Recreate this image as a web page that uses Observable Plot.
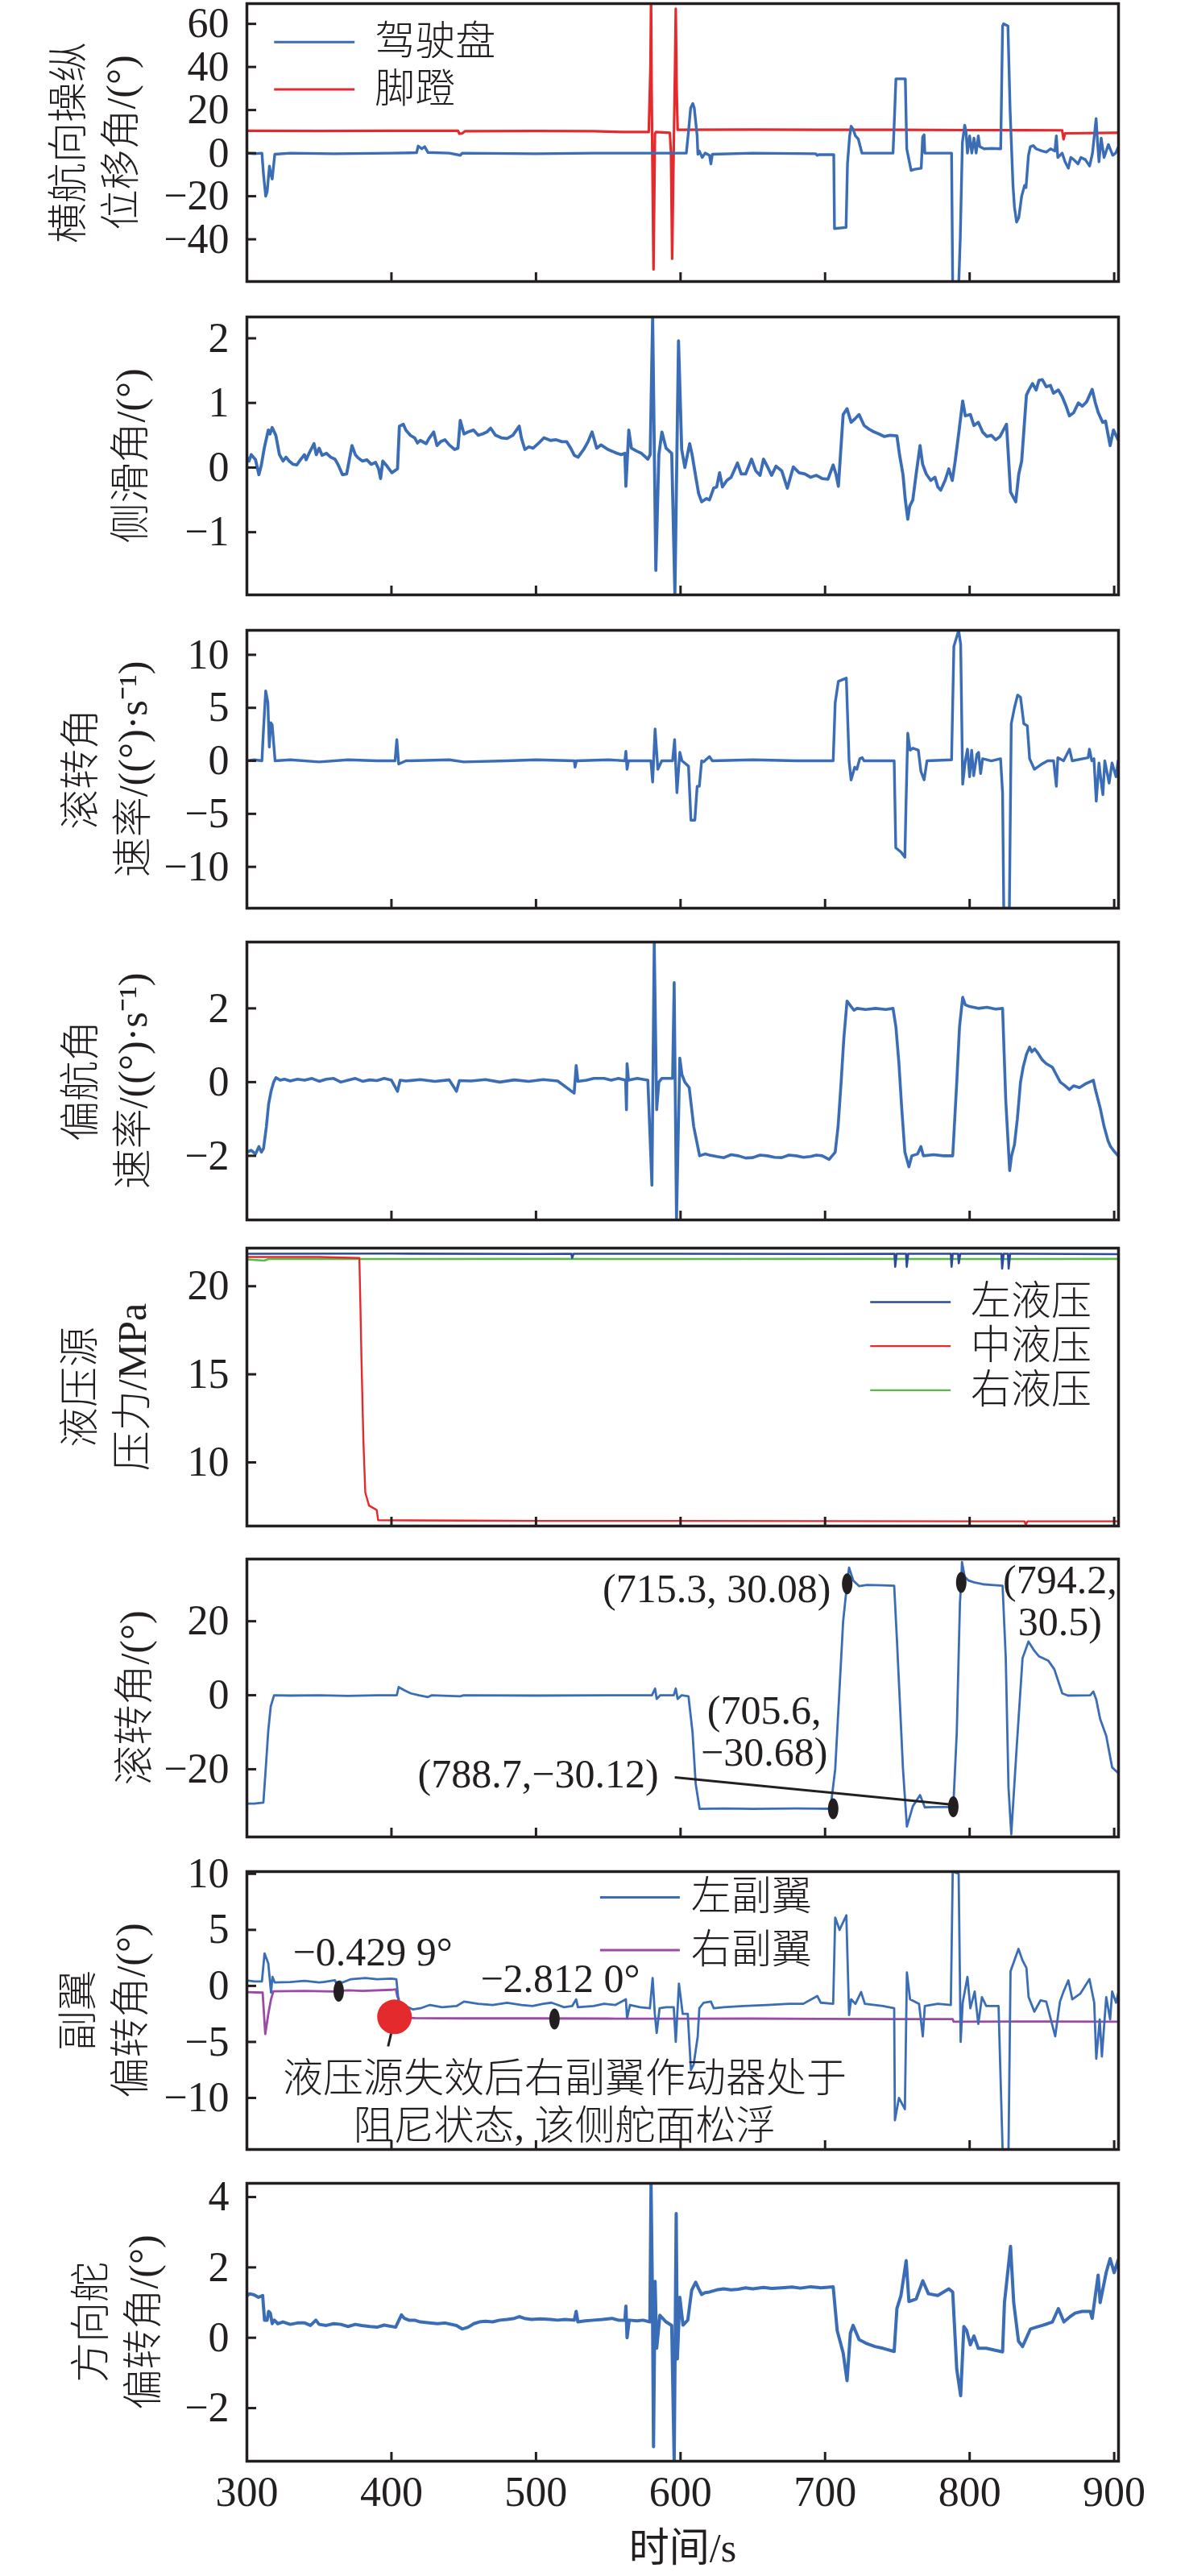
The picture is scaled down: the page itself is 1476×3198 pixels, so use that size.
<!DOCTYPE html>
<html><head><meta charset="utf-8">
<script src="https://cdn.jsdelivr.net/npm/d3@7"></script>
<script src="https://cdn.jsdelivr.net/npm/@observablehq/plot@0.6"></script>
<style>
body{margin:0;background:#fff}
#wrap{position:relative;width:1476px;height:3198px;overflow:hidden}
#wrap svg{position:absolute;left:0}
</style>
</head><body><div id="wrap"></div>
<script>
// ---------------- data (time s, value) ----------------
const xTicks = [300, 400, 500, 600, 700, 800, 900];

const wheel = [[300,0],[305,-0.3],[310.4,0],[311.5,-10],[313,-20],[314,-18],[315.6,-6],[316.6,-10],[317.5,-12],[319.3,-0.5],[330,0],[360,-0.3],[400,0],[417.4,0.2],[418.5,3.3],[421,2],[423,3],[425.3,0.3],[440,0],[447.6,-1],[449,0],[500,-0.3],[540,0],[604,0],[605.5,10],[607,21],[608.5,23],[609.5,21],[611.5,8],[612,-0.5],[613,1],[615,-2],[617,0],[620,-1],[621,-5],[622,-0.5],[650,0],[693.5,-0.3],[694.5,-1],[696,-0.7],[706,-0.7],[706.5,-35],[714.5,-34.5],[715.5,-5],[717,8],[718,12.5],[719.5,11],[721,8],[723,6.5],[725.5,0],[747,0],[748.2,20],[749,34.5],[755.5,34.5],[756.5,2],[758,-3],[759.5,-8],[762,-7.5],[766.5,-7],[767.5,7.5],[768.5,8.5],[769,0],[787.5,0],[788.3,-62],[792.4,-62],[793.5,-40],[795,5],[796.6,13],[797.5,10],[798.5,0],[800,8],[801.5,0],[803,7],[804.5,0],[806,8],[807,3],[810,2],[815,2.2],[821.5,2],[822.8,59],[823.5,60],[826.5,59],[828,20],[830,-15],[831,-25],[832.5,-32],[834,-30],[836,-20],[838,-15],[839,-16],[840.7,-1],[842,3],[844,3.5],[846,2],[850,1],[853,0.5],[856,2],[859,1],[860,8],[861,-2],[864,0],[866,-4],[868.3,-7],[870,-2],[872,-3],[875,-5],[877,-2],[880,-3],[883,-6],[885,0],[887.5,16],[888.5,5],[889.5,-4],[891,7],[893,-2],[896,4],[899,-1],[901,0],[903,3]];
const pedal = [[300,10.4],[350,10.3],[400,10.4],[446,10.4],[447,9],[449,9.2],[451,10.2],[500,10.3],[540,10.2],[560,9.8],[578,9.8],[579.2,40],[579.6,72],[580,30],[581.3,-54],[582.3,9],[583,9.8],[590,9.5],[592.6,9.4],[593.4,0],[594.2,-49],[595,-10],[596.2,40],[596.7,67],[597.3,30],[598,10.8],[650,10.9],[700,10.8],[750,10.8],[800,10.7],[864,10.6],[865,6.4],[866,9.2],[900,9.4],[903,9.4]];

const sideslip = [[300,0.16],[301.5,0.1],[303,0.2],[306,0.12],[308.3,-0.11],[310,0.04],[312,0.3],[314.8,0.58],[316,0.52],[317.5,0.62],[320,0.5],[322.5,0.2],[325,0.1],[327,0.16],[329.3,0.1],[332,0.05],[334.5,0.04],[337,0.12],[339.8,0.2],[341,0.12],[343,0.22],[346.4,0.37],[348,0.2],[350,0.3],[352,0.19],[355,0.22],[358,0.16],[360.9,0.13],[363,0.05],[366.1,-0.11],[369,-0.1],[372.7,0.34],[375,0.2],[377,0.15],[380,0.1],[383,0.12],[386,0.05],[389,0.08],[391.1,-0.02],[392.5,-0.17],[394,0.1],[397,0.02],[400.3,-0.08],[404.2,-0.02],[405.5,0.64],[408.2,0.67],[410,0.58],[413,0.5],[416.1,0.46],[418,0.38],[420,0.42],[424,0.37],[426,0.45],[429.2,0.55],[431.5,0.34],[434,0.4],[437,0.43],[440,0.35],[443.7,0.28],[446,0.3],[447.6,0.73],[450.2,0.52],[453,0.55],[456.8,0.58],[460,0.5],[463,0.52],[466,0.55],[468.6,0.61],[472,0.5],[476,0.46],[480,0.45],[484,0.5],[488.4,0.64],[490,0.45],[492.3,0.28],[495,0.32],[498,0.3],[502,0.38],[505.5,0.46],[510,0.42],[514,0.43],[518,0.4],[521.2,0.4],[524,0.3],[526.5,0.19],[529.1,0.16],[533,0.28],[536,0.4],[538.8,0.55],[542,0.3],[545,0.35],[549.8,0.28],[553,0.25],[556,0.22],[559,0.2],[561.5,0.22],[562.2,-0.29],[564.2,0.58],[566,0.3],[570,0.25],[573,0.22],[577.4,0.13],[579,0.2],[580.7,2.32],[582.9,-1.59],[585,0.2],[587.1,0.55],[590,0.3],[593.9,0.22],[596.1,-1.95],[598.6,1.96],[600.8,0.28],[603,0],[606.3,0.37],[608,0.2],[610.5,-0.14],[612.5,-0.4],[614.6,-0.53],[618,-0.48],[620,-0.5],[622.9,-0.32],[625,-0.3],[627,-0.08],[629,-0.3],[632,-0.2],[635,-0.15],[639.4,0.07],[642,-0.1],[645,-0.1],[649.1,0.13],[652,-0.05],[655,-0.12],[657.4,0.13],[660,0.02],[663,-0.12],[666,0.02],[670,-0.05],[673.9,-0.32],[678,0.01],[682,-0.08],[686,-0.1],[690,-0.15],[694,-0.12],[698,-0.17],[702,-0.18],[705.6,0.04],[707.5,-0.1],[709.2,-0.29],[712.5,0.82],[715.2,0.91],[718,0.7],[720.5,0.75],[723.5,0.82],[727,0.65],[730,0.6],[734,0.55],[737.3,0.52],[741,0.48],[745,0.5],[749.7,0.49],[751.5,0.2],[753.9,-0.11],[755.5,-0.5],[757.2,-0.8],[758.5,-0.6],[760.7,-0.5],[763,-0.1],[765.7,0.34],[767.5,0.05],[770,-0.1],[773.1,-0.2],[776,-0.15],[778,-0.3],[780,-0.35],[783,-0.2],[785.6,-0.02],[788,-0.2],[790,0.1],[792.4,0.52],[795.2,1.03],[797,0.8],[800.5,0.82],[803,0.65],[806,0.7],[809,0.55],[812,0.48],[815,0.5],[818,0.43],[821,0.48],[825.5,0.67],[826.5,0.3],[828.3,-0.38],[830,-0.45],[831.9,-0.53],[834,-0.1],[836,0.1],[839.3,1.12],[841,1.2],[843.5,1.3],[846,1.2],[848,1.35],[850.3,1.36],[853,1.25],[855.9,1.27],[858,1.15],[861.4,1.2],[864,1.1],[866.9,0.94],[869,0.8],[872,0.85],[875.2,1.0],[878,0.95],[881,1.02],[884.8,1.21],[887,1.0],[889,0.85],[892,0.7],[894,0.72],[897.2,0.34],[899.5,0.58],[902.7,0.43]];

const rollRate = [[300,0],[305,0.1],[310.4,0],[311.5,3],[313,6.6],[314.5,5.5],[315.5,1.3],[316.5,3.6],[317.5,3.4],[319.5,0],[330,0.1],[350,-0.1],[370,0.1],[390,0],[402.5,0],[403.7,2],[405,-0.3],[410,0],[440,0.1],[450,-0.1],[480,0],[500,0.1],[526.5,0],[527,-0.6],[528,0],[550,0.1],[561.5,0],[562.2,0.9],[563,-0.8],[564,0],[579.5,0],[580.7,-2],[582.4,3],[584.3,-0.8],[587,0],[594.5,0],[595.9,2],[597.5,-3],[599.5,0.8],[601,0],[605.5,-0.5],[607.2,-5.6],[609.9,-5.6],[611.5,-2.4],[613,-2.4],[614.6,0],[616,-0.1],[620,0.4],[622,0],[650,0.1],[680,0],[705.6,0],[707,5.5],[709.2,7.5],[714.7,7.8],[716.6,0],[718,-1.8],[720.5,-0.6],[722,-0.8],[724,0.2],[725.7,0.3],[727,0],[747.8,0],[748.9,-8.2],[752.5,-8.6],[755.2,-9.1],[756,-4],[757.2,2.6],[758.8,1],[760.7,1.2],[764.5,1],[766.3,-1],[768.5,-1.8],[770.5,0],[787.5,0.1],[789.1,10.8],[792.4,12.3],[793.8,11],[795.2,-2.2],[797,0],[798.5,1.1],[800,-1.5],[801.4,1],[802.8,-1.4],[805,0.6],[806.2,0.8],[807.6,-1.2],[809,0.2],[815,0],[821.4,0.2],[822.8,-3],[823.6,-13.9],[827.5,-13.9],[828.8,3.5],[831,5],[833.2,6.2],[835.2,6],[837.5,3.5],[839.9,3.3],[841.5,0.2],[844.8,-0.8],[850,-0.3],[854,0],[858.1,0],[860,-2.4],[861,0.3],[865,0],[869.1,1.1],[871,0],[882,0.3],[882.9,1.1],[884.5,0],[886,0.2],[887.6,-3.8],[889.5,-0.2],[891,-2],[892.2,-3.2],[893.5,0],[896.5,-2.1],[898.5,-0.2],[901.3,-1.5],[902.7,0]];

const yawRate = [[300,-1.9],[303,-1.85],[306,-1.95],[308.3,-1.75],[310,-1.9],[311.5,-1.8],[313.5,-1.2],[315,-0.6],[316.7,-0.25],[318.5,0],[320.1,0.12],[323,0.05],[326,0.08],[330,0.03],[335,0.08],[340,0.05],[345,0.1],[350,0.02],[355,0.08],[360,0.1],[365,0],[370,0.05],[375,0.1],[380,0.02],[385,0.06],[390,0.04],[395,0.1],[400,0.05],[404.2,-0.25],[406,0.05],[410,0.03],[420,0.07],[430,0.02],[440,0.06],[445,-0.25],[447,0.04],[455,0.03],[465,0.07],[475,0],[485,0.06],[495,0.02],[505,0.07],[515,0.03],[526.4,-0.3],[527.8,0.45],[529,0.02],[535,0.05],[540,0.1],[547.1,0.1],[552,0.05],[557,0.1],[562,0.05],[562.6,-0.75],[563,0.5],[564,0.05],[570,0.1],[577.4,0.05],[580.2,-2.8],[581.8,3.8],[583.5,-0.75],[585,0],[587,0.1],[594.5,0.1],[595.6,2.7],[597.2,-3.74],[599.5,0.65],[601,0.2],[603,0],[606,-0.15],[609.1,-1.2],[613.2,-2.0],[617,-1.95],[620,-1.98],[625,-2.02],[630,-2.05],[635,-1.97],[640,-2.0],[645,-2.06],[650,-2.05],[655,-1.98],[660,-2.0],[665,-2.04],[670,-2.05],[675,-1.98],[680,-2.0],[685,-2.04],[690,-2.02],[694,-1.98],[698,-2.0],[702.8,-2.1],[707,-1.9],[709,-1.2],[711.1,0],[713,1.2],[715.2,2.2],[718,2.05],[720,1.95],[722.1,2.0],[728,1.97],[735,2.0],[742,1.97],[747,2.0],[749,1.5],[751.1,0.5],[753,-0.7],[755.2,-1.9],[758,-2.3],[760,-2.0],[764,-1.95],[766.3,-1.75],[768,-2.0],[775,-1.97],[782,-2.0],[788.3,-2.0],[791.1,0],[793,1.5],[795.2,2.3],[797,2.1],[800,2.05],[806,2.0],[812,2.03],[818,1.98],[822.8,2.0],[825,-0.5],[827.7,-2.4],[829,-2.0],[831,-1.7],[833,-1.0],[835.2,0],[837,0.4],[839.3,0.75],[841.5,0.95],[843,0.82],[845,0.9],[847,0.8],[850.3,0.6],[853,0.5],[857.3,0.4],[860,0.2],[862.7,0],[866,-0.1],[869,-0.2],[872,-0.1],[876,-0.15],[880,-0.05],[885.6,0.05],[887,-0.2],[890.3,-0.7],[893,-1.2],[895.8,-1.6],[897.5,-1.75],[899.4,-1.85],[902.7,-2.0]];

const hydLeft = [[300,21.84],[400,21.85],[500,21.83],[524.5,21.84],[525,21.6],[526,21.84],[600,21.84],[700,21.83],[748,21.84],[748.5,21.1],[749.5,21.84],[756,21.84],[756.5,21.1],[757.5,21.84],[787,21.84],[787.5,21.1],[788.3,21.84],[792,21.84],[792.5,21.3],[793.5,21.84],[822,21.84],[822.5,21.0],[823.5,21.84],[826.5,21.84],[827,21.0],[828,21.84],[903,21.82]];
const hydMid = [[300,21.66],[350,21.66],[377.8,21.6],[378.5,19],[379.3,15.7],[380.6,11.2],[381.9,8.3],[384.5,7.55],[389.8,7.3],[390.8,6.72],[450,6.7],[500,6.68],[600,6.68],[700,6.67],[800,6.66],[838,6.66],[838.8,6.45],[840,6.66],[903,6.66]];
const hydRight = [[300,21.52],[312,21.45],[315,21.54],[400,21.54],[500,21.55],[600,21.54],[700,21.55],[800,21.54],[903,21.55]];

const roll = [[300,-29.3],[305,-29.3],[311.4,-29],[313,-20],[314.8,-9.5],[316.5,-3],[318.8,0],[330,-0.1],[350,0],[370,-0.2],[390,0],[403.7,0],[405,2.2],[409,1.3],[413.4,0.5],[419,0],[425.3,-0.5],[428,0],[447.6,-0.3],[450,0],[500,-0.1],[550,0],[580.2,0],[582.4,1.8],[583.5,-1],[586,0],[595.3,0],[596.7,1.8],[598,-1],[600.8,0],[605.5,-0.3],[608.3,-10],[610.5,-24],[613.2,-30.7],[630,-30.6],[650,-30.7],[680,-30.6],[703.7,-30.68],[707,-20],[712.5,20],[715.2,30.08],[716.6,34.5],[719.5,31],[723.5,29.5],[729,29.8],[740,29.7],[747.8,29.6],[749.7,15],[753.9,-20],[756.6,-35.5],[760.7,-30],[765.7,-27],[769,-30.3],[775,-30.2],[784.2,-30.2],[788.7,-30.12],[791.1,-10],[793.3,25],[794.2,30.5],[794.7,36],[796.6,32],[799.3,31],[803,30.5],[809,30],[815,29.8],[822.8,29.6],[825,10],[826.9,-25],[828.8,-37.6],[832.4,-15],[836.6,10],[840.7,14.5],[844.8,12],[848,10.5],[854.5,9.3],[858.6,7],[864.1,0.5],[868,-0.1],[883.4,0],[885.6,1],[887.5,-1],[890.3,-6.4],[894.5,-11],[898.6,-19.5],[902.7,-21]];
const rollPoints = [[715.3,30.08],[794.2,30.5],[705.6,-30.68],[788.7,-30.12]];
const rollNotes = [
  {t:704, v:28.9, text:"(715.3, 30.08)", anchor:"end"},
  {t:862.5, v:25.6, text:"(794.2,\n30.5)", anchor:"middle"},
  {t:657.9, v:-9.7, text:"(705.6,\n−30.68)", anchor:"middle"},
  {t:501.5, v:-21.2, text:"(788.7,−30.12)", anchor:"middle"}
];
const rollLeader = [[596,-22.2,788.7,-29.6]];

const aileronL = [[300,0.48],[305,0.4],[310.4,0.4],[312.2,2.9],[314.8,2],[316.7,-0.6],[317.7,0.8],[319.3,0.3],[330,0.35],[339.8,0.45],[350,0.3],[353,0.35],[360.9,0.5],[362,0.2],[364,0.4],[366,0.3],[372,0.6],[381.9,0.7],[390,0.6],[400,0.65],[403.4,0.6],[405,-1.5],[410,-1.8],[414.7,-2.1],[420,-2],[426.6,-1.7],[435,-1.9],[445,-1.8],[450.2,-1.4],[460,-1.6],[470,-1.7],[480,-1.5],[490,-1.7],[497.6,-1.8],[505,-1.6],[510.7,-1.5],[515,-1.7],[519.4,-1.9],[525,-1.8],[527.8,-1.2],[529,-1.9],[540,-1.8],[547,-1.6],[555,-1.7],[562.2,-1.2],[563,-2.9],[565,-1.7],[572,-1.9],[578.8,-2.0],[580.7,0.7],[582.2,-2.5],[583.5,-4.2],[585.5,-2],[590,-1.9],[595.3,-1.9],[596.7,-5],[598.9,0.2],[601.5,-2.5],[605,-2.5],[607.2,-7.5],[609.1,-7.0],[611.9,-4.5],[613,-2],[616,-1.5],[621,-1.4],[623,-2],[630,-1.9],[643.6,-1.8],[660,-1.7],[675,-1.6],[684.9,-1.6],[694.6,-0.9],[697,-1.5],[705.6,-1.6],[707,6.1],[710,5],[714.7,6.3],[716.6,-2.6],[718,-1.2],[721,-1.6],[724.9,-0.55],[727.5,-1.6],[740,-1.8],[747.8,-2.0],[748.3,-12],[751.1,-10],[755.2,-11],[756.6,1.2],[758.8,-1.2],[765,-1.6],[767.6,-4.5],[769,-1.8],[778,-1.6],[787,-1.7],[788.3,10.2],[792.4,10],[793.8,-5],[795.2,-1.5],[798.5,0.8],[800.5,-2],[803.5,-0.5],[806,-3.4],[808.5,-1],[811.5,-1.8],[820,-1.8],[822.8,-14.6],[826.9,-14.6],[828.3,1.3],[833.8,3.3],[836.5,2.3],[839.3,1.6],[840.8,-1],[844.8,-2.3],[849,-1.3],[853,-1.4],[859.2,-4.5],[862.5,-1.4],[865,-0.5],[868.3,0.5],[871,-1.2],[876.5,-0.7],[882.9,0.6],[886.2,-1.5],[887.6,-6.5],[890,-3],[891.5,-6.3],[894.5,-1],[897.2,-3],[898.6,-0.5],[901.3,-1.5],[902.7,-0.7]];
const aileronR = [[300,-0.55],[310.9,-0.6],[312.7,-4.3],[314.8,-2.5],[316.7,-1.2],[318.3,-0.48],[340,-0.45],[360,-0.5],[370,-0.4],[380,-0.45],[400,-0.35],[403,-0.3],[404.2,-1.0],[405,-1.1],[406,-2.8],[416.1,-2.88],[450,-2.9],[500,-2.9],[550,-2.92],[600,-2.93],[650,-2.92],[700,-2.95],[750,-2.96],[788.3,-2.97],[789,-3.2],[850,-3.18],[903,-3.2]];
const aileronPoints = [[363.5,-0.48],[512.8,-2.95]];
const aileronValues = [{t:387, v:3.0, text:"−0.429 9°"},{t:516.8, v:0.6, text:"−2.812 0°"}];
const failurePoint = [[402.1,-2.76]];
const failureLeader = [[400.3,-3.97,397.7,-5.4]];
const failureNote = [{t:519.8, v:-10.2, text:"液压源失效后右副翼作动器处于\n阻尼状态, 该侧舵面松浮"}];

const rudder = [[300,1.19],[302,1.25],[305,1.22],[308,1.15],[310.9,1.2],[312.2,0.5],[314,0.5],[315,0.75],[316.2,0.7],[317.5,0.4],[319,0.5],[321.4,0.4],[325,0.45],[330,0.38],[335,0.42],[340,0.42],[344,0.35],[347.7,0.5],[350,0.38],[355,0.35],[360,0.4],[365,0.38],[370,0.32],[375,0.38],[379.3,0.35],[385,0.32],[390,0.3],[395,0.36],[402.9,0.3],[406.9,0.65],[409,0.55],[412,0.5],[416,0.5],[420,0.45],[425,0.43],[431.8,0.4],[437,0.42],[445,0.35],[448.9,0.25],[453,0.3],[457,0.4],[460.8,0.45],[465,0.47],[470,0.45],[475,0.5],[480,0.52],[485,0.55],[488.4,0.6],[492,0.55],[497,0.52],[503,0.54],[510,0.52],[515,0.5],[520,0.52],[526.5,0.5],[527.8,0.75],[529,0.45],[534,0.48],[540,0.5],[546,0.52],[552.6,0.55],[557,0.5],[561.5,0.5],[562.2,0.9],[563,0],[564.5,0.5],[570,0.48],[574,0.5],[578.8,0.45],[579.6,4.39],[580.6,1.0],[581.3,-3.1],[582.4,1.6],[583.5,-0.3],[585.7,0.64],[590,0.45],[593.9,0.35],[595.6,-3.5],[597,3.53],[597.8,-0.6],[599.5,1.15],[601.7,0.36],[605,0.5],[607.7,1.35],[610.5,1.58],[612.5,1.4],[614.6,1.23],[617,1.28],[620,1.3],[625,1.36],[629.8,1.39],[635,1.36],[640,1.38],[645,1.42],[650,1.39],[657.4,1.43],[663,1.4],[670,1.42],[677,1.44],[683,1.41],[690,1.45],[697,1.42],[705.6,1.45],[708.4,0.2],[712.5,-0.43],[715.2,-1.22],[717.5,0.13],[719.4,0.35],[723.5,-0.05],[728,-0.15],[734.5,-0.25],[740,-0.3],[747.8,-0.39],[749.7,0.83],[752.5,1.2],[756.1,2.19],[758,1.03],[763,1.1],[767.6,1.62],[771.5,1.25],[778,1.2],[785.6,1.39],[788.3,1.3],[791.1,-0.9],[793.8,-1.65],[796,0.32],[798,0.2],[800.5,-0.2],[803,0.05],[806,-0.3],[811.5,-0.3],[817,-0.35],[822.8,-0.4],[824.1,1.0],[828.3,2.6],[830.5,1.0],[833.8,-0.1],[836.6,-0.25],[842.1,0.25],[846,0.3],[850.3,0.35],[854,0.4],[857.3,0.45],[861.4,0.83],[865.2,0.45],[869.5,0.6],[873,0.7],[877.9,0.75],[883.4,0.75],[884.8,0.55],[888.9,1.78],[890.3,1.0],[894.5,1.86],[897.2,2.25],[900,1.85],[902.7,2.2]];

// legends: name, y value of the key line; [x start, x end, text x]
const legend1 = [{name:"驾驶盘", v:51.5},{name:"脚蹬", v:29.6}];
const legend1X = [318.8, 374.5, 388.5];
const legend5 = [{name:"左液压", v:19.1},{name:"中液压", v:16.6},{name:"右液压", v:14.1}];
const legend5X = [731.2, 786.9, 800.7];
const legend7 = [{name:"左副翼", v:7.9},{name:"右副翼", v:3.2}];
const legend7X = [544.3, 599.5, 607.2];

const axisTitles = [
  "横航向操纵\n位移角/(°)", "侧滑角/(°)", "滚转角\n速率/((°)·s⁻¹)", "偏航角\n速率/((°)·s⁻¹)",
  "液压源\n压力/MPa", "滚转角/(°)", "副翼\n偏转角/(°)", "方向舵\n偏转角/(°)"
];
const xTitle = "时间/s";

// ---------------- styles ----------------
const INK = "#231f20", BLUE = "#3a6db5", RED = "#e52a2d", NAVY = "#2b4a9c", GREEN = "#5ab94a", PURPLE = "#9b4aa6";
const FONT = "'Liberation Serif','Times New Roman','Noto Sans CJK SC',serif";
const W = 1476, ML = 306, MR = 88, PH = 345, FS = 50, NFS = 52;
const tops = [4, 393, 782, 1169, 1549, 1935, 2323, 2710];
const wrap = document.getElementById("wrap");
const fmt = d => String(d).replace("-", "−");

const ellipse = {draw(ctx) {
  const rx = 6.5, ry = 13, k = 0.5523;
  ctx.moveTo(rx, 0);
  ctx.bezierCurveTo(rx, ry*k, rx*k, ry, 0, ry);
  ctx.bezierCurveTo(-rx*k, ry, -rx, ry*k, -rx, 0);
  ctx.bezierCurveTo(-rx, -ry*k, -rx*k, -ry, 0, -ry);
  ctx.bezierCurveTo(rx*k, -ry, rx, -ry*k, rx, 0);
  ctx.closePath();
}};

const X = d => d[0], Y = d => d[1];
function line(data, stroke, sw) {
  return Plot.line(data, {x: X, y: Y, stroke, strokeWidth: sw, clip: true, curve: "linear"});
}
function legendMarks(items, xs, colors, sw) {
  return [
    Plot.link(items, {x1: () => xs[0], x2: () => xs[1], y1: d => d.v, y2: d => d.v, stroke: (d, i) => colors[i], strokeWidth: sw}),
    Plot.text(items, {x: () => xs[2], y: d => d.v, text: d => d.name, textAnchor: "start", fontSize: FS, fill: INK, fontWeight: 300})
  ];
}

function panel(i, domain, yticks, titleDx, marks, last = false) {
  const mt = 4;
  const mb = last ? 3198 - (tops[i] + PH) : 6;
  const chart = Plot.plot({
    width: W, height: PH + mt + mb,
    marginLeft: ML, marginRight: MR, marginTop: mt, marginBottom: mb,
    x: {domain: [300, 903], axis: null},
    y: {domain, axis: null},
    style: {fontFamily: FONT, fontSize: FS + "px", color: INK, background: "transparent", overflow: "visible"},
    marks: [
      ...marks,
      Plot.tickX(xTicks, {x: d => d, insetTop: PH - 11, stroke: INK, strokeWidth: 3}),
      Plot.tickY(yticks, {y: d => d, insetRight: (W - ML - MR) - 12, stroke: INK, strokeWidth: 3}),
      Plot.axisY(yticks, {tickSize: 0, tickPadding: 22, fontSize: NFS, label: null, fill: INK, tickFormat: fmt}),
      last ? Plot.axisX(xTicks, {tickSize: 0, tickPadding: 19, fontSize: NFS, label: null, fill: INK, tickFormat: fmt}) : null,
      last ? Plot.text([xTitle], {frameAnchor: "bottom", dy: 108, text: d => d, fontSize: FS, fill: INK, lineAnchor: "middle"}) : null,
      Plot.frame({stroke: INK, strokeWidth: 3.5}),
      Plot.text([axisTitles[i]], {frameAnchor: "left", rotate: -90, dx: titleDx, text: d => d, fontSize: FS,
        lineHeight: 1.3, textAnchor: "middle", lineAnchor: "middle", fill: INK, fontWeight: 300})
    ]
  });
  chart.style.top = (tops[i] - mt) + "px";
  wrap.append(chart);
}

function notes(data, anchor, lh) {
  return Plot.text(data.filter(d => d.anchor === anchor), {x: d => d.t, y: d => d.v, text: d => d.text,
    textAnchor: anchor, fontSize: FS, fill: INK, lineHeight: lh, lineAnchor: "middle"});
}

// 1 横航向操纵位移角
panel(0, [-59.6, 69.4], [-40, -20, 0, 20, 40, 60], 113 - ML, [
  line(pedal, RED, 3.2),
  line(wheel, BLUE, 3.4),
  ...legendMarks(legend1, legend1X, [BLUE, RED], 3)
]);
// 2 侧滑角
panel(1, [-1.97, 2.33], [-1, 0, 1, 2], 158 - ML, [line(sideslip, BLUE, 3.8)]);
// 3 滚转角速率
panel(2, [-13.9, 12.31], [-10, -5, 0, 5, 10], 128 - ML, [line(rollRate, BLUE, 3.4)]);
// 4 偏航角速率
panel(3, [-3.74, 3.8], [-2, 0, 2], 128 - ML, [line(yawRate, BLUE, 3.6)]);
// 5 液压源压力
panel(4, [6.39, 22.16], [10, 15, 20], 127 - ML, [
  line(hydRight, GREEN, 2.6),
  line(hydMid, RED, 2.4),
  line(hydLeft, NAVY, 2.6),
  ...legendMarks(legend5, legend5X, [NAVY, RED, GREEN], 2.4)
]);
// 6 滚转角
panel(5, [-38.3, 36.8], [-20, 0, 20], 163 - ML, [
  line(roll, BLUE, 2.8),
  Plot.link(rollLeader, {x1: d => d[0], y1: d => d[1], x2: d => d[2], y2: d => d[3], stroke: INK, strokeWidth: 3}),
  Plot.dot(rollPoints, {x: X, y: Y, symbol: ellipse, fill: INK, stroke: null}),
  notes(rollNotes, "end", 1.05),
  notes(rollNotes, "middle", 1.05)
]);
// 7 副翼偏转角
panel(6, [-14.6, 10.2], [-10, -5, 0, 5, 10], 125 - ML, [
  line(aileronR, PURPLE, 2.8),
  line(aileronL, BLUE, 2.8),
  ...legendMarks(legend7, legend7X, [BLUE, PURPLE], 3),
  Plot.dot(aileronPoints, {x: X, y: Y, symbol: ellipse, fill: INK, stroke: null}),
  Plot.text(aileronValues, {x: d => d.t, y: d => d.v, text: d => d.text, fontSize: FS, fill: INK}),
  Plot.link(failureLeader, {x1: d => d[0], y1: d => d[1], x2: d => d[2], y2: d => d[3], stroke: INK, strokeWidth: 3}),
  Plot.dot(failurePoint, {x: X, y: Y, r: 21.5, fill: RED, stroke: null}),
  Plot.text(failureNote, {x: d => d.t, y: d => d.v, text: d => d.text, fontSize: FS, fill: INK, lineHeight: 1.18, lineAnchor: "middle", fontWeight: 300})
]);
// 8 方向舵偏转角
panel(7, [-3.51, 4.39], [-2, 0, 2, 4], 141.5 - ML, [line(rudder, BLUE, 4)], true);
</script>
</body></html>
